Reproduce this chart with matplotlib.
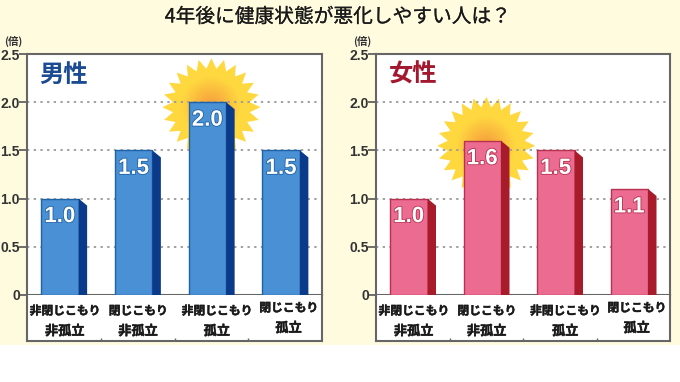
import numpy as np
import matplotlib
matplotlib.use("Agg")
import matplotlib.pyplot as plt
import matplotlib.patheffects as pe
from matplotlib.patches import Polygon, Rectangle

plt.rcParams['font.family'] = ['Noto Sans CJK JP', 'DejaVu Sans']

title = "4年後に健康状態が悪化しやすい人は？"
categories_male = [("非閉じこもり", "非孤立"), ("閉じこもり", "非孤立"), ("非閉じこもり", "孤立"), ("閉じこもり", "孤立")]
categories_female = categories_male
values_male = [1.0, 1.5, 2.0, 1.5]
values_female = [1.0, 1.6, 1.5, 1.1]
y_ticks = [0, 0.5, 1.0, 1.5, 2.0, 2.5]
y_tick_labels = ["0", "0.5", "1.0", "1.5", "2.0", "2.5"]

W, H = 680, 382
CREAM = "#FFFBDF"
label_nudge = [1, 0.5, 5.5, 3.5]


def px_axes(fig, x0, y_top, x1, y_bot):
    return fig.add_axes([x0 / W, 1 - y_bot / H, (x1 - x0) / W, (y_bot - y_top) / H])


def draw_panel(fig, x0, x1, values, cats, name, name_color, front, edge, side):
    y_top, y_zero, y_box = 54, 295, 341
    ax = px_axes(fig, x0, y_top, x1, y_zero)
    ax.set_xlim(-0.5, 3.5)
    ax.set_ylim(0, 2.5)
    slot = (x1 - x0) / 4
    unit = (y_zero - y_top) / 2.5
    dx = 8.5 / slot
    dy = 7 / unit
    width = 37.5 / slot
    shift = -4 / slot

    # sun behind the tallest bar
    top = int(np.argmax(values))
    sx, sy = top, values[top] - 5 / unit
    rx, ry = 49 / slot, 49 / unit
    n = 24
    ang = np.pi / 2 + np.arange(2 * n) * np.pi / n
    rad = np.where(np.arange(2 * n) % 2 == 0, 1.0, 0.79)
    star = np.column_stack([sx + rx * rad * np.cos(ang), sy + ry * rad * np.sin(ang)])
    gx, gy = np.meshgrid(np.linspace(-1, 1, 200), np.linspace(-1, 1, 200))
    r = np.clip(np.hypot(gx, gy) / 0.62, 0, 1)
    inner = np.array([0.96, 0.60, 0.24])
    outer = np.array([1.0, 0.85, 0.25])
    rgb = inner + (outer - inner) * r[..., None]
    im = ax.imshow(rgb, extent=[sx - rx, sx + rx, sy - ry, sy + ry], origin="lower",
                   aspect="auto", zorder=0.3, interpolation="bilinear")
    im.set_clip_path(Polygon(star, closed=True, transform=ax.transData))
    ax.set_xlim(-0.5, 3.5)
    ax.set_ylim(0, 2.5)

    ax.set_axisbelow(True)
    ax.yaxis.grid(True, color="#9a9a9a", linestyle=(0, (1.3, 2.4)), linewidth=1.3)
    ax.xaxis.grid(False)

    xs = np.arange(len(values)) + shift
    ax.bar(xs, values, width=width, color=front, edgecolor=edge, linewidth=1.0, zorder=3)
    for x, v in zip(xs, values):
        right = x + width / 2
        ax.add_patch(Polygon([(right, v), (right + dx, v - dy), (right + dx, 0), (right, 0)],
                             closed=True, facecolor=side, edgecolor="none", zorder=3))
        ax.text(x, v - 18 / unit, f"{v:.1f}", ha="center", va="center", color="white",
                fontsize=16, fontweight="bold", family=["Liberation Sans"],
                zorder=4, path_effects=[pe.withStroke(linewidth=1.2, foreground=edge)])

    ax.set_xticks([])
    ax.set_yticks(y_ticks)
    ax.set_yticklabels(y_tick_labels, fontsize=10, fontweight="bold", color="#333333",
                       family=["Liberation Sans"])
    ax.tick_params(axis="y", length=6, width=1.2, color="#555555", pad=-1)
    for s in ax.spines.values():
        s.set_color("#666666")
        s.set_linewidth(1.5)

    ax.text(-0.5 + 37 / slot, 2.5 - 21 / unit, name, ha="center", va="center", color=name_color,
            fontsize=17.5, fontweight="bold")
    fig.text((x0 - 14) / W, 1 - 41 / H, "(倍)", ha="center", va="center", fontsize=7.5,
             fontweight="bold", color="#333333")

    # label box under the bars
    box = px_axes(fig, x0, y_zero, x1, y_box)
    box.set_xlim(-0.5, 3.5)
    box.set_ylim(1, 0)
    box.set_yticks([])
    box.set_xticks([0.5, 1.5, 2.5])
    box.set_xticklabels([])
    box.tick_params(axis="x", direction="in", length=2, width=1, color="#666666")
    box.patch.set_facecolor("white")
    for s in box.spines.values():
        s.set_color("#666666")
        s.set_linewidth(1.5)
    box.spines["top"].set_visible(False)
    heavy = [pe.withStroke(linewidth=0.3, foreground="#1a1a1a")]
    for i, (line1, line2) in enumerate(cats):
        lift = 3 if i == 3 else 0
        cx = i + label_nudge[i] / slot
        box.text(cx, (16 - lift) / 46, line1, ha="center", va="center", fontsize=8.5,
                 fontweight="bold", color="#1a1a1a", path_effects=heavy)
        box.text(cx, (36 - lift) / 46, line2, ha="center", va="center", fontsize=9.5,
                 fontweight="bold", color="#1a1a1a", path_effects=heavy)


fig = plt.figure(figsize=(W / 100, H / 100), dpi=100, facecolor="white")
fig.add_artist(Rectangle((0, 1 - 345 / H), 1, 345 / H, transform=fig.transFigure,
                         facecolor=CREAM, edgecolor="none", zorder=-5))
fig.text(338 / W, 1 - 17 / H, title, ha="center", va="center", fontsize=14.2, color="#1a1a1a",
         path_effects=[pe.withStroke(linewidth=0.15, foreground="#1a1a1a")])

draw_panel(fig, 27, 322, values_male, categories_male, "男性", "#1B4B93",
           "#4A90D4", "#1E62A8", "#0B3A8A")
draw_panel(fig, 376, 670, values_female, categories_female, "女性", "#A3182F",
           "#EC6B91", "#B8324F", "#A81B2B")

fig.savefig("out.png", dpi=100, facecolor=fig.get_facecolor())
